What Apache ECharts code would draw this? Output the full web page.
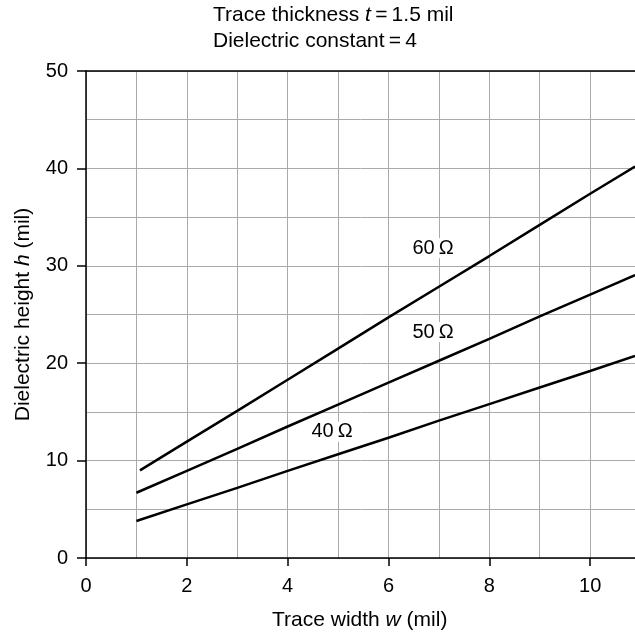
<!DOCTYPE html>
<html>
<head>
<meta charset="utf-8">
<script src="https://cdn.jsdelivr.net/npm/echarts@6/dist/echarts.min.js"></script>
<style>
  html, body { margin: 0; padding: 0; background: #fff; }
  #chart { width: 635px; height: 636px; }
</style>
</head>
<body>
<div id="chart"></div>
<script>
// Microstrip design curves: trace width vs dielectric height
const widths = [1, 2, 3, 4, 5, 6, 7, 8, 9, 10, 10.89];
const width60 = [1.07, 2, 3, 4, 5, 6, 7, 8, 9, 10, 10.89];
const h60 = [9.0, 11.95, 15.1, 18.3, 21.5, 24.7, 27.85, 31.0, 34.2, 37.4, 40.2];
const h50 = [6.7, 8.95, 11.2, 13.5, 15.75, 18.0, 20.25, 22.5, 24.8, 27.05, 29.05];
const h40 = [3.8, 5.5, 7.2, 8.95, 10.65, 12.35, 14.1, 15.8, 17.5, 19.2, 20.75];

const curveNames = ['60\u2009\u03A9', '50\u2009\u03A9', '40\u2009\u03A9'];
const labelX = [6.885, 6.885, 4.88];
const labelY = [31.8, 23.2, 12.95];

const xRange = [0, 10.89];
const xLabelTicks = [0, 2, 4, 6, 8, 10];
const yTicks = { min: 0, max: 50, step: 10 };

const FONT = '"Liberation Sans", Arial, sans-serif';
const chart = echarts.init(document.getElementById('chart'));

const zip = (xs, ys) => xs.map((x, i) => [x, ys[i]]);
const lineSeries = (data) => ({
  type: 'line',
  xAxisIndex: 0,
  data: data,
  showSymbol: false,
  smooth: false,
  lineStyle: { color: '#000', width: 2.5 },
  silent: true,
  z: 5
});
const richText = (size, color) => ({
  a: { fontFamily: FONT, fontSize: size, color: color, fontWeight: 'normal', lineHeight: 26 },
  i: { fontFamily: FONT, fontSize: size, color: color, fontWeight: 'normal', fontStyle: 'italic', lineHeight: 26 }
});
const gridLine = { show: true, lineStyle: { color: '#aaa', width: 1 } };

chart.setOption({
  animation: false,
  backgroundColor: '#fff',
  title: {
    left: 213,
    top: 2,
    padding: 0,
    text: '{a|Trace thickness }{i|t}{a|\u2009=\u20091.5 mil}\n{a|Dielectric constant\u2009=\u20094}',
    textStyle: { fontWeight: 'normal', rich: richText(21, '#000') }
  },
  graphic: [{
    type: 'text',
    left: 272,
    top: 610,
    style: {
      text: '{a|Trace width }{i|w}{a| (mil)}',
      rich: {
        a: { fontFamily: FONT, fontSize: 21, fill: '#000' },
        i: { fontFamily: FONT, fontSize: 21, fill: '#000', fontStyle: 'italic' }
      }
    }
  }],
  grid: { left: 86, top: 71, bottom: 78, right: 0 },
  xAxis: [
    {
      // labelled bottom axis, ticks every 2 mil
      type: 'value',
      position: 'bottom',
      min: xRange[0], max: xRange[1], interval: 1,
      axisLine: { show: true, lineStyle: { color: '#000', width: 1.5 } },
      axisTick: { show: true, length: 8, inside: false, customValues: xLabelTicks,
                  lineStyle: { color: '#000', width: 1.5 } },
      axisLabel: { color: '#000', fontFamily: FONT, fontSize: 20, margin: 18, customValues: xLabelTicks },
      splitLine: { show: false }
    },
    {
      // vertical grid every 1 mil
      type: 'value',
      position: 'bottom',
      min: xRange[0], max: xRange[1], interval: 1,
      axisLine: { show: false },
      axisTick: { show: false },
      axisLabel: { show: false },
      splitLine: gridLine
    },
    {
      // top frame line
      type: 'value',
      position: 'top',
      min: xRange[0], max: xRange[1],
      axisLine: { show: true, lineStyle: { color: '#000', width: 1.5 } },
      axisTick: { show: false },
      axisLabel: { show: false },
      splitLine: { show: false }
    }
  ],
  yAxis: {
    type: 'value',
    min: yTicks.min, max: yTicks.max, interval: yTicks.step,
    name: '{a|Dielectric height }{i|h}{a| (mil)}',
    nameLocation: 'middle',
    nameGap: 50,
    nameRotate: 90,
    nameTextStyle: { rich: richText(21, '#000') },
    axisLine: { lineStyle: { color: '#000', width: 1.5 } },
    axisTick: { show: true, length: 9, inside: false, lineStyle: { color: '#000', width: 1.5 } },
    axisLabel: { color: '#000', fontFamily: FONT, fontSize: 20, margin: 18 },
    splitLine: gridLine,
    minorTick: { show: false, splitNumber: 2 },
    minorSplitLine: gridLine
  },
  series: [
    lineSeries(zip(width60, h60)),
    lineSeries(zip(widths, h50)),
    lineSeries(zip(widths, h40)),
    {
      type: 'scatter',
      xAxisIndex: 0,
      symbolSize: 1,
      itemStyle: { color: '#fff', opacity: 1 },
      silent: true,
      data: curveNames.map((n, i) => ({ value: [labelX[i], labelY[i]], name: n })),
      label: {
        show: true,
        position: 'inside',
        formatter: (p) => p.name,
        color: '#000',
        opacity: 1,
        textBorderWidth: 0,
        textBorderColor: 'transparent',
        fontFamily: FONT,
        fontSize: 20,
        backgroundColor: '#fff',
        padding: [0, 1]
      },
      z: 6
    }
  ]
});
</script>
</body>
</html>
